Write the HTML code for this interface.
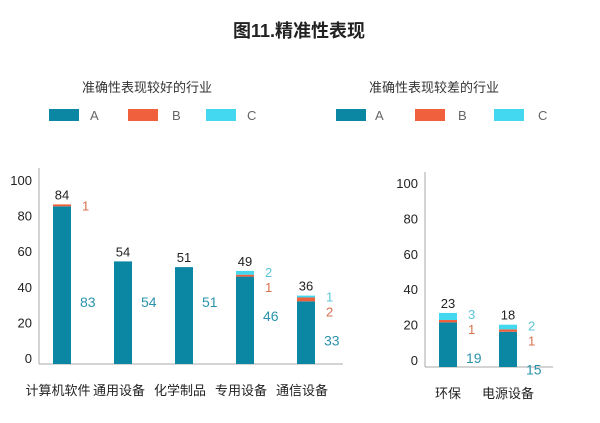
<!DOCTYPE html>
<html><head><meta charset="utf-8"><style>
body{margin:0;background:#fff}
svg{display:block;font-family:"Liberation Sans","Noto Sans CJK SC",sans-serif}
</style></head><body>
<svg id="c" width="600" height="423" viewBox="0 0 600 423">
<text x="299" y="37" text-anchor="middle" font-size="18" font-weight="bold" fill="#222">图11.精准性表现</text>
<text x="147" y="92" text-anchor="middle" font-size="13" fill="#333">准确性表现较好的行业</text>
<text x="434" y="92" text-anchor="middle" font-size="13" fill="#333">准确性表现较差的行业</text>
<g id="legends"></g>
<g id="left"></g>
<g id="right"></g>
</svg>
<script>
const leftCats=["计算机软件","通用设备","化学制品","专用设备","通信设备"];
const leftA=[83,54,51,46,33];
const leftB=[1,0,0,1,2];
const leftC=[0,0,0,2,1];
const leftTotal=[84,54,51,49,36];
const rightCats=["环保","电源设备"];
const rightA=[19,15];
const rightB=[1,1];
const rightC=[3,2];
const rightTotal=[23,18];
const yTicks=[0,20,40,60,80,100];
const colA="#0c87a3",colB="#f0603c",colC="#44d8f0";
const NS="http://www.w3.org/2000/svg";
function mk(tag,attrs,parent,txt){const e=document.createElementNS(NS,tag);for(const k in attrs)e.setAttribute(k,attrs[k]);if(txt!==undefined)e.textContent=txt;parent.appendChild(e);return e;}
// legends
const lg=document.getElementById('legends');
[[49,90,128,172,206,247],[336,375,415,458,494,538]].forEach((p,i)=>{
  [["A",colA],["B",colB],["C",colC]].forEach((s,j)=>{
    const r=mk('rect',{x:p[j*2],y:109,width:30,height:12,fill:s[1]},lg);
    
    
    const t=mk('text',{x:p[j*2+1],y:120,'font-size':13,fill:'#666'},lg,s[0]);
    
    
  });
});
function chart(g,cfg,cats,A,B,C,T){
  const base=cfg.base,sc=cfg.barScale,tsc=cfg.tickScale;
  const ax=mk('line',{x1:cfg.axisX,y1:cfg.top,x2:cfg.axisX,y2:base,stroke:'#aaa','stroke-width':1},g);
  
  
  const bx=mk('line',{x1:cfg.axisX,y1:base,x2:cfg.axisEnd,y2:base,stroke:'#aaa','stroke-width':1},g);
  
  
  yTicks.forEach(v=>{
    const t=mk('text',{x:cfg.axisX-7,y:cfg.tick0-v*tsc+5,'text-anchor':'end','font-size':13,fill:'#222'},g,v);
    
    
  });
  cats.forEach((c,i)=>{
    const cx=cfg.x0+i*cfg.step,w=18,x=cx-w/2;
    let y=base;
    [[A[i],colA,'a'],[B[i],colB,'b'],[C[i],colC,'c']].forEach(s=>{
      if(s[0]<=0)return;
      const h=s[0]*sc;y-=h;
      const r=mk('rect',{x:x,y:y,width:w,height:h,fill:s[1]},g);
      
      
    });
    const tt=mk('text',{x:cx,y:y-5,'text-anchor':'middle','font-size':13,fill:'#222'},g,T[i]);
    
    
    const top=y;
    let ly=top+6;
    if(C[i]>0){const t=mk('text',{x:cx+20,y:ly,'font-size':13,fill:'#5cc6d8'},g,C[i]);ly+=15;}
    if(B[i]>0){const t=mk('text',{x:cx+20,y:ly,'font-size':13,fill:'#d9704f'},g,B[i]);ly+=15;}
    const ay=Math.max(cfg.aLabelY,ly+14);
    const at=mk('text',{x:cx+18,y:ay,'font-size':14,fill:'#2a93ab'},g,A[i]);
    
    
    const cl=mk('text',{x:cx+cfg.catOff,y:base+31,'text-anchor':'middle','font-size':13,fill:'#222'},g,c);
    
    
  });
}
chart(document.getElementById('left'),{base:364,barScale:1.9,tickScale:1.78,tick0:358,axisX:39,axisEnd:343,top:168,x0:62,step:61,aLabelY:307,catOff:-4},leftCats,leftA,leftB,leftC,leftTotal);
chart(document.getElementById('right'),{base:367,barScale:2.35,tickScale:1.77,tick0:360,axisX:425,axisEnd:553,top:172,x0:448,step:60,aLabelY:300,catOff:0},rightCats,rightA,rightB,rightC,rightTotal);
</script>
</body></html>
